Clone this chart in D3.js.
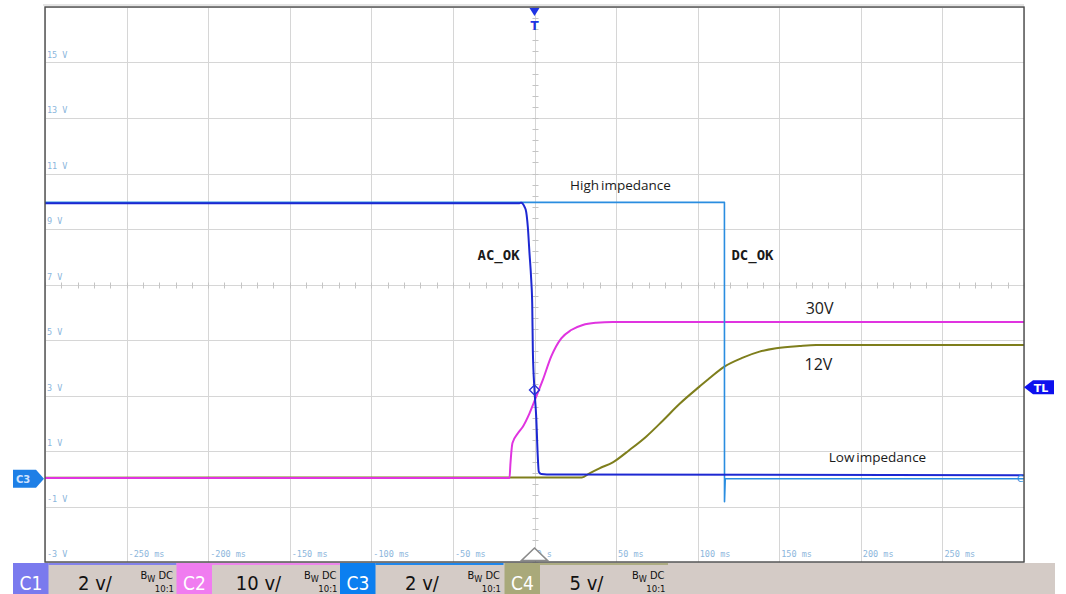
<!DOCTYPE html>
<html>
<head>
<meta charset="utf-8">
<script src="https://cdn.jsdelivr.net/npm/d3@7"></script>
<style>
  html, body { margin: 0; padding: 0; background: #ffffff; }
  svg { display: block; }
</style>
</head>
<body>
<svg id="scope" width="1066" height="594"></svg>
<script>
// ---- Axis tick values (screen scale follows channel C3, 2 V/div) ----
const timeTicks = [-250, -200, -150, -100, -50, 0, 50, 100, 150, 200, 250];
const timeTickLabels = ["-250 ms", "-200 ms", "-150 ms", "-100 ms", "-50 ms", "0 s",
                        "50 ms", "100 ms", "150 ms", "200 ms", "250 ms"];
const voltTicks = [15, 13, 11, 9, 7, 5, 3, 1, -1, -3];
const voltTickLabels = ["15 V", "13 V", "11 V", "9 V", "7 V", "5 V", "3 V", "1 V", "-1 V", "-3 V"];

// ---- Channel settings ----
const channelNames = ["C1", "C2", "C3", "C4"];
const channelVoltsPerDiv = [2, 10, 2, 5];
const channelScaleLabels = ["2 v/", "10 v/", "2 v/", "5 v/"];
const channelProbe = ["10:1", "10:1", "10:1", "10:1"];

// ---- Captured waveforms: time in ms, amplitude in volts of each channel ----
// C1: AC_OK
const acOkTime  = [-300, -9.2, -8.2, -6.1, -5.1, -4.1, -3.06, -2.0, -1.4, -1.02, 0, 1.04, 2.02, 2.64, 4.1, 11.2, 300];
const acOkVolts = [9.93, 9.93, 9.95, 9.8, 9.62, 9.08, 8.12, 7.16, 6.3, 4.64, 3.2, 2.24, 0.79, 0.25, 0.17, 0.15, 0.13];
// C3: DC_OK
const dcOkTime  = [-300, 116.4, 116.45, 116.9, 300];
const dcOkVolts = [9.96, 9.96, -0.83, 0.0, 0.0];
// C2: 30 V output
const out30Time  = [-300, -15.3, -14.8, -13.5, -10.2, -7.15, -3.06, 1.04, 5.1, 10.2, 16.4, 22.5, 29.6, 37.8, 48, 300];
const out30Volts = [0.15, 0.15, 2.48, 6.44, 8.19, 9.38, 11.79, 14.78, 17.8, 22.0, 25.3, 26.8, 27.7, 28.1, 28.25, 28.25];
// C4: 12 V output
const out12Time  = [-300, 29, 33.7, 39.8, 48, 58.2, 68.4, 78.6, 88.8, 101.1, 107.2, 116.4, 127.7, 137.9, 148.1, 162.4, 172.6, 300];
const out12Volts = [0.1, 0.12, 0.49, 0.94, 1.48, 2.59, 3.79, 5.23, 6.73, 8.3, 9.05, 10.1, 10.91, 11.45, 11.75, 11.96, 12.05, 12.05];

// Trigger point (C1 at t = 0) and trigger level in screen volts
const triggerTime = 0;
const triggerLevel = 3.3;

// ---- Annotations (time in ms, screen volts) ----
const noteTexts = ["High impedance", "Low impedance", "AC_OK", "DC_OK", "30V", "12V"];
const noteTime  = [52.7, 210.2, -22, 133.6, 174.7, 174];
const noteLevel = [10.4, 0.6, 7.9, 7.9, 5.95, 3.93];
const noteBold  = [false, false, true, true, false, false];

// ---- Layout ----
const svg = d3.select("#scope");
const plot = { left: 45, right: 1024, top: 7, bottom: 562 };

const x = d3.scaleLinear().domain([-300, 300]).range([plot.left, plot.right]);
const y = d3.scaleLinear().domain([-3, 17]).range([plot.bottom, plot.top]);

// Converts a channel voltage into screen volts (2 V per division)
const toScreen = (ch, v) => v * 2 / channelVoltsPerDiv[ch];

// ---- Graticule ----
const grid = svg.append("g").attr("stroke", "#d6d6d6").attr("stroke-width", 1);
const xGrid = d3.range(-300, 301, 50);
const yGrid = d3.range(-3, 17.01, 2);
grid.selectAll("line.v").data(xGrid).join("line")
  .attr("x1", d => Math.round(x(d)) + 0.5).attr("x2", d => Math.round(x(d)) + 0.5)
  .attr("y1", plot.top).attr("y2", plot.bottom);
grid.selectAll("line.h").data(yGrid).join("line")
  .attr("y1", d => Math.round(y(d)) + 0.5).attr("y2", d => Math.round(y(d)) + 0.5)
  .attr("x1", plot.left).attr("x2", plot.right);

// Minor ticks along the centre axes
const minor = svg.append("g").attr("stroke", "#c4c4c4").attr("stroke-width", 1);
const xc = Math.round(x(0)) + 0.5, yc = Math.round(y(7)) + 0.5;
minor.selectAll("line.vt").data(d3.range(-3, 17.01, 0.4)).join("line")
  .attr("x1", xc - 3).attr("x2", xc + 3)
  .attr("y1", d => Math.round(y(d)) + 0.5).attr("y2", d => Math.round(y(d)) + 0.5);
minor.selectAll("line.ht").data(d3.range(-300, 300.01, 10)).join("line")
  .attr("y1", yc - 3).attr("y2", yc + 3)
  .attr("x1", d => Math.round(x(d)) + 0.5).attr("x2", d => Math.round(x(d)) + 0.5);

// Faint scroll strip over the top edge
svg.append("line").attr("x1", 43).attr("x2", plot.right).attr("y1", 5).attr("y2", 5)
  .attr("stroke", "#dcdcdc").attr("stroke-width", 1.5);

// ---- Axis labels ----
const labelFont = "'DejaVu Sans Mono', monospace";
svg.append("g").selectAll("text").data(voltTicks).join("text")
  .attr("x", plot.left + 2).attr("y", d => y(d) - 5)
  .attr("font-family", labelFont).attr("font-size", 8.5).attr("fill", "#8cb6dc")
  .text((d, i) => voltTickLabels[i]);
svg.append("g").selectAll("text").data(timeTicks).join("text")
  .attr("x", d => x(d) + 2).attr("y", plot.bottom - 5)
  .attr("font-family", labelFont).attr("font-size", 8.5).attr("fill", "#8cb6dc")
  .text((d, i) => timeTickLabels[i]);

// ---- Waveforms ----
const line = (ch, curve) => d3.line()
  .curve(curve)
  .x(d => x(d[0]))
  .y(d => y(toScreen(ch, d[1])));
const traces = [
  { ch: 3, t: out12Time, v: out12Volts, color: "#7e7e1c", w: 2, curve: d3.curveMonotoneX },
  { ch: 1, t: out30Time, v: out30Volts, color: "#e034e0", w: 2, curve: d3.curveMonotoneX },
  { ch: 2, t: dcOkTime,  v: dcOkVolts,  color: "#2a8de0", w: 1.6, curve: d3.curveLinear },
  { ch: 0, t: acOkTime,  v: acOkVolts,  color: "#1d28d2", w: 2, curve: d3.curveMonotoneX }
];
const traceG = svg.append("g").attr("fill", "none").attr("stroke-linejoin", "round");
traces.forEach(tr => {
  traceG.append("path")
    .datum(tr.t.map((t, i) => [t, tr.v[i]]))
    .attr("d", line(tr.ch, tr.curve))
    .attr("stroke", tr.color)
    .attr("stroke-width", tr.w);
});

// Trigger point marker on C1
const tpX = x(triggerTime), tpY = y(toScreen(0, acOkVolts[acOkTime.indexOf(triggerTime)]));
svg.append("path")
  .attr("d", `M${tpX},${tpY - 5}L${tpX + 5},${tpY}L${tpX},${tpY + 5}L${tpX - 5},${tpY}Z`)
  .attr("fill", "none").attr("stroke", "#2a34d8").attr("stroke-width", 1.4);

// ---- Plot frame ----
svg.append("rect")
  .attr("x", plot.left).attr("y", plot.top)
  .attr("width", plot.right - plot.left).attr("height", plot.bottom - plot.top)
  .attr("fill", "none").attr("stroke", "#4a4a4a").attr("stroke-width", 1.4);

// Trigger position marker (top) and time reference (bottom)
svg.append("path")
  .attr("d", `M${x(0) - 5},8L${x(0) + 5},8L${x(0)},16Z`).attr("fill", "#1e34e4");
svg.append("text").attr("x", x(0)).attr("y", 30).attr("text-anchor", "middle")
  .attr("font-family", "'DejaVu Sans', sans-serif").attr("font-weight", "bold")
  .attr("font-size", 12).attr("fill", "#1e34e4").text("T");
svg.append("path")
  .attr("d", `M${x(0) - 13},${plot.bottom - 1.5}L${x(0) + 13},${plot.bottom - 1.5}L${x(0)},${plot.bottom - 14}Z`)
  .attr("fill", "#ffffff").attr("stroke", "#8a8a8a").attr("stroke-width", 1.6);

// Ground reference marker for C3 (left) and its end marker (right)
const gY = y(0);
svg.append("path")
  .attr("d", `M13,${gY - 9}L36,${gY - 9}L44,${gY}L36,${gY + 9}L13,${gY + 9}Z`)
  .attr("fill", "#1e7fe6");
svg.append("text").attr("x", 16).attr("y", gY + 4)
  .attr("font-family", "'DejaVu Sans', sans-serif").attr("font-size", 10).attr("font-weight", "bold")
  .attr("fill", "#cfe2ff").text("C3");
svg.append("text").attr("x", plot.right - 7).attr("y", gY + 3)
  .attr("font-family", "'DejaVu Sans', sans-serif").attr("font-size", 9)
  .attr("fill", "#2a8de0").text("C");

// Trigger level marker (right)
const tlY = y(triggerLevel);
svg.append("path")
  .attr("d", `M${plot.right},${tlY}L${plot.right + 9},${tlY - 7}L1054,${tlY - 7}L1054,${tlY + 7}L${plot.right + 9},${tlY + 7}Z`)
  .attr("fill", "#0d10ee");
svg.append("text").attr("x", 1041).attr("y", tlY + 4.5).attr("text-anchor", "middle")
  .attr("font-family", "'DejaVu Sans', sans-serif").attr("font-weight", "bold")
  .attr("font-size", 11).attr("fill", "#ffffff").text("TL");

// ---- Annotations ----
svg.append("g").selectAll("text").data(noteTexts).join("text")
  .attr("x", (d, i) => x(noteTime[i])).attr("y", (d, i) => y(noteLevel[i]))
  .attr("text-anchor", "middle")
  .attr("font-family", (d, i) => noteBold[i] ? "'DejaVu Sans Mono', monospace" : "'Open Sans', sans-serif")
  .attr("font-weight", (d, i) => noteBold[i] ? "bold" : "normal")
  .attr("font-size", (d, i) => noteBold[i] ? 14 : (d.length > 4 ? 13.5 : 16))
  .attr("word-spacing", (d, i) => noteBold[i] ? 0 : -1.5)
  .attr("fill", "#1a1a1a")
  .text(d => d);

// ---- Channel status bar ----
const barTop = 563;
const chColors = ["#7a7aee", "#f07cf0", "#0b7ff0", "#a9a97a"];
const status = svg.append("g");
status.append("rect").attr("x", 13).attr("y", barTop).attr("width", 1042).attr("height", 594 - barTop)
  .attr("fill", "#d4cbc6");
const blockX = [13, 176.5, 340, 504.5];
const narrow = "'Liberation Sans Narrow', 'DejaVu Sans Condensed', 'Roboto Condensed', sans-serif";
channelNames.forEach((name, i) => {
  const bx = blockX[i];
  status.append("rect").attr("x", bx).attr("y", barTop).attr("width", 35.5).attr("height", 594 - barTop)
    .attr("fill", chColors[i]);
  status.append("rect").attr("x", bx + 35.5).attr("y", barTop).attr("width", 128).attr("height", 2)
    .attr("fill", chColors[i]).attr("opacity", 0.9);
  status.append("text").attr("x", bx + 18).attr("y", 590).attr("text-anchor", "middle")
    .attr("font-family", narrow).attr("font-size", 19).attr("fill", "#ffffff").text(name);
  status.append("text").attr("x", bx + 82).attr("y", 590).attr("text-anchor", "middle")
    .attr("font-family", narrow).attr("font-size", 20).attr("fill", "#111111").text(channelScaleLabels[i]);
  const bw = status.append("text").attr("x", bx + 160).attr("y", 579).attr("text-anchor", "end")
    .attr("font-family", narrow).attr("font-size", 11).attr("fill", "#111111");
  bw.append("tspan").text("B");
  bw.append("tspan").attr("dy", 3).attr("font-size", 9).text("W");
  bw.append("tspan").attr("dy", -3).text(" DC");
  status.append("text").attr("x", bx + 161).attr("y", 592).attr("text-anchor", "end")
    .attr("font-family", narrow).attr("font-size", 9.5).attr("fill", "#111111").text(channelProbe[i]);
});
</script>
</body>
</html>
